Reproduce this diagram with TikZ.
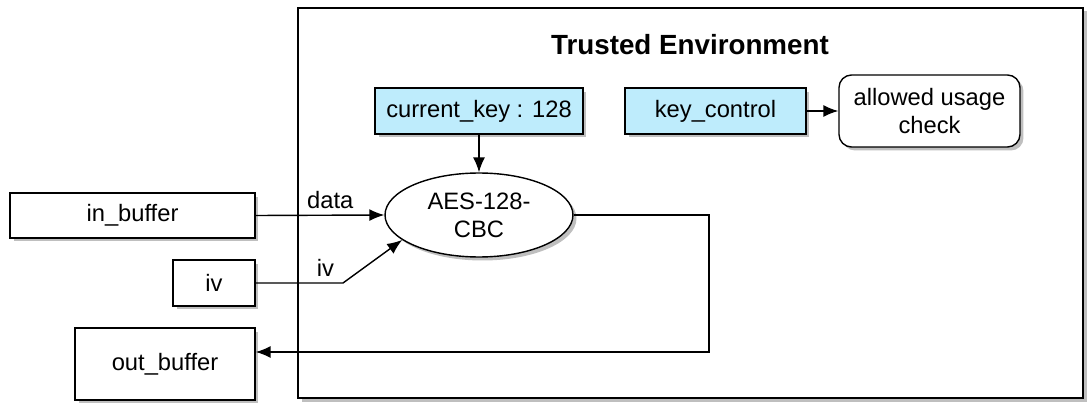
\documentclass[tikz,border=0pt]{standalone}
\usepackage{fontspec}
\setmainfont{Liberation Sans}
\usetikzlibrary{shapes.geometric,shadows,arrows.meta}
\definecolor{keyblue}{RGB}{190,236,252}
\tikzset{
	shade/.style={drop shadow={shadow xshift=0.07cm, shadow yshift=-0.07cm, fill=black!50, opacity=0.5}},
	box/.style={draw, thick, fill=white, shade, font=\fontsize{13.5}{16}\selectfont},
	keybox/.style={box, fill=keyblue, minimum height=0.92cm},
	arr/.style={-{Latex[length=0.3cm,width=0.24cm]}, thick}
}
\begin{document}
\begin{tikzpicture}[x=0.02cm,y=-0.02cm]
	\useasboundingbox (0,0) rectangle (1090,412);
	% trusted environment
	\draw[thick, fill=white, shade] (298,8) rectangle (1083,398);
	\node[font=\fontsize{15.8}{18}\selectfont\bfseries] (title) at (690,45) {Trusted Environment};
	
	\node[keybox, minimum width=4.16cm] (key) at (479,111) {current\_key : 128};
	\node[keybox, minimum width=3.62cm] (keyctl) at (715.5,111) {key\_control};
	\node[box, rounded corners=0.25cm, align=center, minimum width=3.62cm, minimum height=1.44cm] (allowed) at (929.5,111) {allowed usage\\check};
	\node[box, ellipse, align=center, minimum width=3.76cm, minimum height=1.68cm, inner sep=0pt] (aes) at (479,215) {AES-128-\\CBC};
	
	% buffers
	\node[box, minimum width=4.9cm, minimum height=0.9cm] (inbuf) at (132.5,215.5) {in\_buffer};
	\node[box, minimum width=1.64cm, minimum height=0.92cm] (iv) at (214,283) {iv};
	\node[box, minimum width=3.6cm, minimum height=1.44cm] (outbuf) at (165,364) {out\_buffer};
	
	\coordinate (ivbend) at (343,283);
	\coordinate (outcorner) at (709,352);
	
	\draw[arr] (key) -- (aes);
	\draw[arr] (keyctl) -- (allowed);
	\draw[arr] (inbuf.east) -- node[above, pos=0.58, font=\fontsize{13.5}{16}\selectfont]{data} (aes.west);
	\draw[arr] (iv.east) -- node[above, pos=0.8, font=\fontsize{13.5}{16}\selectfont]{iv} (ivbend) -- (aes.198);
	\draw[arr] (aes.east) -| (outcorner) -- (outcorner -| outbuf.east);
\end{tikzpicture}
\end{document}
